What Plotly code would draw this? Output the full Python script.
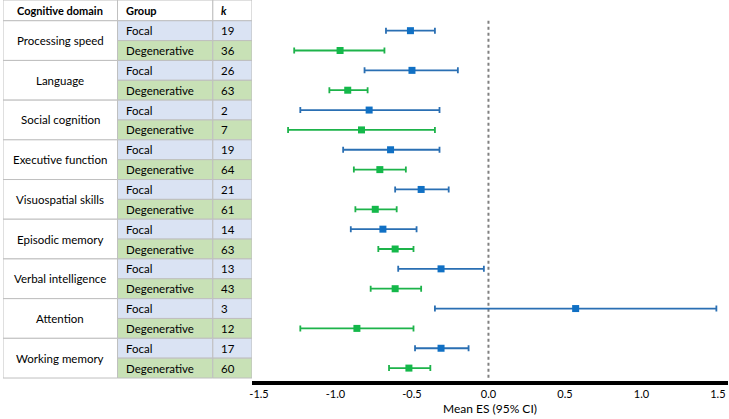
import plotly.graph_objects as go

domains = ["Processing speed", "Language", "Social cognition", "Executive function",
           "Visuospatial skills", "Episodic memory", "Verbal intelligence", "Attention",
           "Working memory"]
groups = ["Focal", "Degenerative"]
k_focal = [19, 26, 2, 19, 21, 14, 13, 3, 17]
k_degen = [36, 63, 7, 64, 61, 63, 43, 12, 60]

es_focal = [-0.51, -0.50, -0.78, -0.64, -0.44, -0.69, -0.31, 0.57, -0.31]
lo_focal = [-0.67, -0.81, -1.23, -0.95, -0.61, -0.90, -0.59, -0.35, -0.48]
hi_focal = [-0.35, -0.20, -0.32, -0.32, -0.26, -0.47, -0.03, 1.49, -0.13]

es_degen = [-0.97, -0.92, -0.83, -0.71, -0.74, -0.61, -0.61, -0.86, -0.52]
lo_degen = [-1.27, -1.04, -1.31, -0.88, -0.87, -0.72, -0.77, -1.23, -0.65]
hi_degen = [-0.68, -0.79, -0.35, -0.54, -0.60, -0.49, -0.44, -0.49, -0.38]

x_ticks = [-1.5, -1.0, -0.5, 0.0, 0.5, 1.0, 1.5]

W, H = 729, 419
FONT = "Lato"
BLUE_LINE, BLUE_MARK = "#2A6FB3", "#1070C4"
GREEN_LINE, GREEN_MARK = "#1DB34A", "#14B84A"
FOCAL_BG, DEGEN_BG = "#DAE3F3", "#C8E1B6"
GRID = "#BFBFBF"

col_edges = [0, 115, 210.7, 250]
n_rows = 2 * len(domains)
y_top, y_bot = -1.545, 17.65

rows_f = [2 * i for i in range(len(domains))]
rows_d = [2 * i + 1 for i in range(len(domains))]

fig = go.Figure()

def add_series(es, lo, hi, rows, lc, mc, name):
    fig.add_trace(go.Scatter(
        x=es, y=rows, mode="markers", name=name,
        marker=dict(symbol="square", size=7, color=mc, line=dict(width=0)),
        error_x=dict(type="data", symmetric=False,
                     array=[h - e for h, e in zip(hi, es)],
                     arrayminus=[e - l for e, l in zip(es, lo)],
                     color=lc, thickness=1.8, width=3),
        showlegend=False, hoverinfo="skip"))

add_series(es_focal, lo_focal, hi_focal, rows_f, BLUE_LINE, BLUE_MARK, "Focal")
add_series(es_degen, lo_degen, hi_degen, rows_d, GREEN_LINE, GREEN_MARK, "Degenerative")

shapes = []
annotations = []

# dashed zero line
shapes.append(dict(type="line", xref="x", yref="y", x0=0, x1=0, y0=-0.5, y1=n_rows - 0.5,
                   line=dict(color="#808080", width=2, dash="3px,3px"), layer="below"))

def cell(x0, x1, y0, y1, fill):
    shapes.append(dict(type="rect", xref="x2", yref="y", x0=x0, x1=x1, y0=y0, y1=y1,
                       fillcolor=fill, line=dict(color=GRID, width=1), layer="below"))

def text(x, y, t, align="left", bold=False, italic=False, size=11.5):
    s = t
    if bold:
        s = "<b>" + s + "</b>"
    if italic:
        s = "<i>" + s + "</i>"
    annotations.append(dict(xref="x2", yref="y", x=x, y=y, text=s, showarrow=False,
                            xanchor=align, yanchor="middle",
                            font=dict(family=FONT, size=size, color="#000000")))

# header
cell(col_edges[0], col_edges[1], y_top, -0.5, "white")
cell(col_edges[1], col_edges[2], y_top, -0.5, "white")
cell(col_edges[2], col_edges[3], y_top, -0.5, "white")
text((col_edges[0] + col_edges[1]) / 2, -1.02, "Cognitive domain", "center", bold=True, size=11)
text(col_edges[1] + 6, -1.02, "Group", "left", bold=True, size=11)
text(col_edges[2] + 6, -1.02, "k", "left", bold=True, italic=True, size=11)

for i, d in enumerate(domains):
    rf, rd = rows_f[i], rows_d[i]
    cell(col_edges[0], col_edges[1], rf - 0.5, rd + 0.5, "white")
    text((col_edges[0] + col_edges[1]) / 2, rf + 0.5, d, "center")
    for r, g, kv, bg in [(rf, groups[0], k_focal[i], FOCAL_BG), (rd, groups[1], k_degen[i], DEGEN_BG)]:
        cell(col_edges[1], col_edges[2], r - 0.5, r + 0.5, bg)
        cell(col_edges[2], col_edges[3], r - 0.5, r + 0.5, bg)
        text(col_edges[1] + 6, r, g, "left")
        text(col_edges[2] + 6, r, str(kv), "left")

fig.update_layout(
    width=W, height=H,
    margin=dict(l=0, r=0, t=0, b=0),
    paper_bgcolor="white", plot_bgcolor="white",
    font=dict(family=FONT, size=11, color="#000000"),
    shapes=shapes, annotations=annotations,
    xaxis=dict(domain=[250 / W, 728 / W], range=[-1.546, 1.566],
               tickvals=x_ticks, ticktext=[f"{v:.1f}" for v in x_ticks],
               showgrid=False, zeroline=False, showline=True, linecolor="black",
               linewidth=4, ticks="", tickfont=dict(family=FONT, size=11),
               title=dict(text="Mean ES (95% CI)", font=dict(family=FONT, size=12), standoff=6)),
    xaxis2=dict(domain=[0, 250 / W], range=[0, 250], visible=False, anchor="y",
                fixedrange=True),
    yaxis=dict(domain=[(H - 381) / H, 1], range=[y_bot, y_top], visible=False,
               showgrid=False, zeroline=False),
)

fig.write_html("out.html", config={"displayModeBar": False},
               post_script="document.body.style.margin='0px';document.body.style.overflow='hidden';")
